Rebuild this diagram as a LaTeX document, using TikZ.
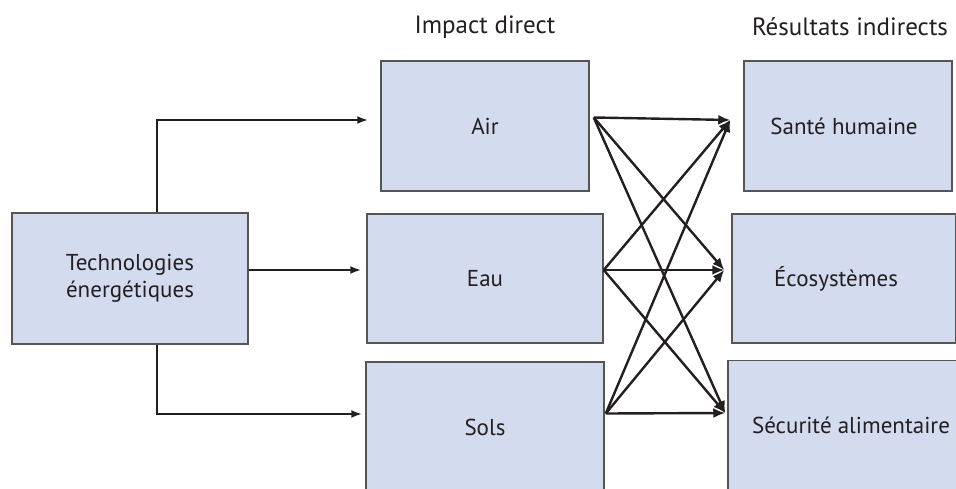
\documentclass[tikz,border=0pt]{standalone}
\usepackage{fontspec}
\setmainfont{PT Sans}
\usetikzlibrary{arrows.meta,calc}
\definecolor{boxfill}{HTML}{D3DCEF}
\definecolor{boxline}{HTML}{555555}
\definecolor{txt}{HTML}{231F20}
\begin{document}
\begin{tikzpicture}[x=1pt,y=-1pt,
  box/.style={draw=boxline,line width=1.5pt,fill=boxfill,inner sep=0pt,
    text=txt,font=\fontsize{23}{27}\selectfont,align=center},
  head/.style={text=txt,font=\fontsize{25}{28}\selectfont,inner sep=0pt},
  arr/.style={draw=txt,line width=2.4pt,-{Latex[length=11pt,width=8pt]}},
  carr/.style={draw=txt,line width=2.4pt,-{Latex[length=12pt,width=10pt]}}]
\path[use as bounding box] (0,0) rectangle (956,489);
\clip (0,0) rectangle (956,489);
\node[box,minimum width=236pt,minimum height=131pt] (tech) at (130,278.5) {Technologies\\énergétiques};
\node[box,minimum width=208pt,minimum height=130pt] (air) at (485,126) {Air};
\node[box,minimum width=236pt,minimum height=129pt] (eau) at (485,278.5) {Eau};
\node[box,minimum width=238pt,minimum height=130pt] (sols) at (485,427) {Sols};
\node[box,minimum width=208pt,minimum height=130pt] (sante) at (848,126) {Santé humaine\hspace*{8pt}};
\node[box,minimum width=224pt,minimum height=129pt] (eco) at (844,278.5) {Écosystèmes\hspace*{16pt}};
\node[box,minimum width=230pt,minimum height=130pt] (secu) at (843,425.5) {\hspace*{16pt}Sécurité alimentaire};
\node[head] (h1) at (485,27) {Impact direct};
\node[head] (h2) at (850,27) {Résultats indirects};
% entry arrows
\draw[arr,shorten >=12pt] ([xshift=27pt]tech.north) |- ([yshift=6pt]air.west);
\draw[arr,shorten >=5pt] ([yshift=8.5pt]tech.east) -- ([yshift=8.5pt]eau.west);
\draw[arr,shorten >=3pt] ([xshift=27pt]tech.south) |- ([yshift=13pt]sols.west);
% cross arrows
\coordinate (a) at ([xshift=4pt,yshift=8.5pt]air.east);
\coordinate (e) at ([xshift=0pt,yshift=8.5pt]eau.east);
\coordinate (s) at ([xshift=1pt,yshift=13.5pt]sols.east);
\coordinate (ts) at ([xshift=-13pt,yshift=6pt]sante.west);
\coordinate (te) at ([xshift=-7pt,yshift=8.5pt]eco.west);
\coordinate (tf) at ([xshift=-2pt,yshift=12.5pt]secu.west);
\foreach \src in {a,e,s}{
  \foreach \dst in {ts,te,tf}{
    \draw[carr] (\src) -- (\dst);
  }
}
\end{tikzpicture}
\end{document}
